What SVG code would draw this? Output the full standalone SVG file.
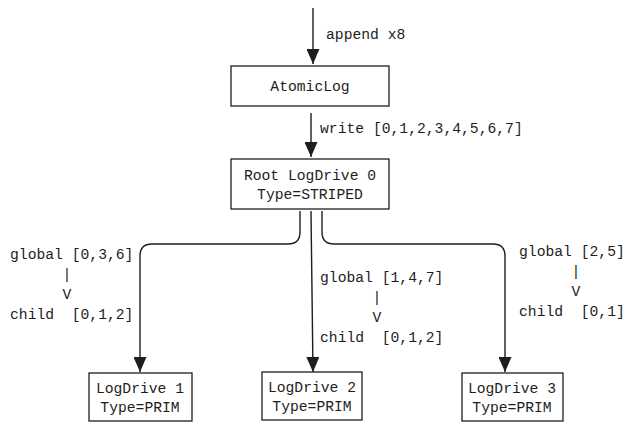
<svg xmlns="http://www.w3.org/2000/svg" width="634" height="432" viewBox="0 0 634 432">
<defs>
<style>
.box{fill:#fff;stroke:#1e1e1e;stroke-width:1.3}
.t{font-family:"Liberation Mono","DejaVu Sans Mono",monospace;font-size:14.7px;fill:#1e1e1e;white-space:pre}
.c{text-anchor:middle}
.e{fill:none;stroke:#1e1e1e;stroke-width:1.4}
</style>
<marker id="ah" viewBox="0 0 15 13" refX="15" refY="6.5" markerWidth="15" markerHeight="13" markerUnits="userSpaceOnUse" orient="auto">
<path d="M0,0 L15,6.5 L0,13 Z" fill="#1e1e1e"/>
</marker>
</defs>
<rect width="634" height="432" fill="#fff"/>
<g id="connectors">
<path class="e" d="M313,8 L313,64" marker-end="url(#ah)"/>
<text class="t" x="326" y="39">append x8</text>
<path class="e" d="M311,113 L311,157" marker-end="url(#ah)"/>
<text class="t" x="320" y="133">write [0,1,2,3,4,5,6,7]</text>
<path class="e" d="M300,211 L300,232 Q300,244 288,244 L152,244 Q140,244 140,256 L140,372" marker-end="url(#ah)"/>
<path class="e" d="M311,211 L313,372" marker-end="url(#ah)"/>
<path class="e" d="M322,211 L322,232 Q322,244 334,244 L493,244 Q505,244 505,256 L505,372" marker-end="url(#ah)"/>
<text class="t" x="10" y="259">global [0,3,6]</text>
<text class="t c" x="67" y="279">|</text>
<text class="t c" x="67" y="299">V</text>
<text class="t" x="10" y="319">child  [0,1,2]</text>
<text class="t" x="320" y="282">global [1,4,7]</text>
<text class="t c" x="377" y="302">|</text>
<text class="t c" x="377" y="322">V</text>
<text class="t" x="320" y="342">child  [0,1,2]</text>
<text class="t" x="519" y="256">global [2,5]</text>
<text class="t c" x="576" y="276">|</text>
<text class="t c" x="576" y="296">V</text>
<text class="t" x="519" y="316">child  [0,1]</text>
</g>
<g id="atomiclog">
<rect class="box" x="231" y="66" width="158" height="40"/>
<text class="t c" x="310" y="91">AtomicLog</text>
</g>
<g id="root">
<rect class="box" x="231" y="159" width="158" height="50"/>
<text class="t c" x="310" y="180">Root LogDrive 0</text>
<text class="t c" x="310" y="199">Type=STRIPED</text>
</g>
<g id="drive1">
<rect class="box" x="89" y="373" width="103" height="48"/>
<text class="t c" x="140" y="393">LogDrive 1</text>
<text class="t c" x="140" y="412">Type=PRIM</text>
</g>
<g id="drive2">
<rect class="box" x="262" y="372" width="100" height="48"/>
<text class="t c" x="312" y="392">LogDrive 2</text>
<text class="t c" x="312" y="411">Type=PRIM</text>
</g>
<g id="drive3">
<rect class="box" x="462" y="373" width="101" height="48"/>
<text class="t c" x="512" y="393">LogDrive 3</text>
<text class="t c" x="512" y="412">Type=PRIM</text>
</g>
</svg>
